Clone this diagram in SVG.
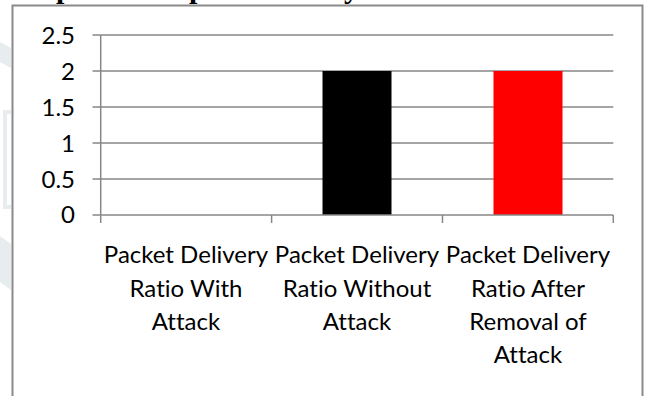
<svg xmlns="http://www.w3.org/2000/svg" width="648" height="396" viewBox="0 0 648 396">
  <style>
    .frame { fill: #ffffff; stroke: #8a8a8a; stroke-width: 2; }
    .grid { stroke: #878787; stroke-width: 1.5; fill: none; }
    .axis { stroke: #878787; stroke-width: 1.5; fill: none; }
    .lbl { font-family: Lato, "Liberation Sans", sans-serif; font-size: 24px; fill: #000000; font-variant-ligatures: none; }
    .ylbl { text-anchor: end; }
    .xlbl { text-anchor: middle; }
    .head { font-family: "Liberation Serif", serif; font-weight: bold; font-size: 30px; fill: #000000; }
    .wm { fill: #e7ecef; }
  </style>
  <rect x="0" y="0" width="648" height="396" fill="#ffffff"/>
  <g id="watermark">
    <path class="wm" d="M0 42 L11 48 L11 68 L0 62 Z"/>
    <path class="wm" d="M3 110 L11 110 L11 114 L7 114 L7 205 L11 205 L11 209 L3 209 Z"/>
    <path class="wm" d="M0 236 L11 244 L11 290 L0 282 Z"/>
  </g>
  <g id="heading-fragment">
    <text class="head" x="56" y="-1.8">p</text>
    <text class="head" x="189" y="-1.8">p</text>
    <text class="head" x="344" y="-1.8">y</text>
  </g>
  <g id="chart-frame">
    <rect class="frame" x="12.5" y="5.5" width="630" height="400"/>
  </g>
  <g id="gridlines">
    <line class="grid" x1="100.7" y1="35" x2="613.3" y2="35"/>
    <line class="grid" x1="100.7" y1="71" x2="613.3" y2="71"/>
    <line class="grid" x1="100.7" y1="107" x2="613.3" y2="107"/>
    <line class="grid" x1="100.7" y1="143" x2="613.3" y2="143"/>
    <line class="grid" x1="100.7" y1="179" x2="613.3" y2="179"/>
  </g>
  <g id="bars">
    <rect id="bar-without-attack" x="322.5" y="71" width="69" height="144" fill="#000000"/>
    <rect id="bar-after-removal" x="493.5" y="71" width="69" height="144" fill="#ff0000"/>
  </g>
  <g id="axes">
    <line class="axis" x1="100.7" y1="35" x2="100.7" y2="223"/>
    <line class="axis" x1="92.5" y1="215" x2="613.3" y2="215"/>
    <line class="axis" x1="92.5" y1="35" x2="100.7" y2="35"/>
    <line class="axis" x1="92.5" y1="71" x2="100.7" y2="71"/>
    <line class="axis" x1="92.5" y1="107" x2="100.7" y2="107"/>
    <line class="axis" x1="92.5" y1="143" x2="100.7" y2="143"/>
    <line class="axis" x1="92.5" y1="179" x2="100.7" y2="179"/>
    <line class="axis" x1="271.6" y1="215" x2="271.6" y2="223"/>
    <line class="axis" x1="442.5" y1="215" x2="442.5" y2="223"/>
    <line class="axis" x1="613.3" y1="215" x2="613.3" y2="223"/>
  </g>
  <g id="y-labels">
    <text class="lbl ylbl" x="75" y="43.5">2.5</text>
    <text class="lbl ylbl" x="75" y="79.5">2</text>
    <text class="lbl ylbl" x="75" y="115.5">1.5</text>
    <text class="lbl ylbl" x="75" y="151.5">1</text>
    <text class="lbl ylbl" x="75" y="187.5">0.5</text>
    <text class="lbl ylbl" x="75" y="223">0</text>
  </g>
  <g id="cat-with-attack">
    <text class="lbl xlbl" x="186" y="263.3">Packet Delivery</text>
    <text class="lbl xlbl" x="186" y="296.6">Ratio With</text>
    <text class="lbl xlbl" x="186" y="330">Attack</text>
  </g>
  <g id="cat-without-attack">
    <text class="lbl xlbl" x="357" y="263.3">Packet Delivery</text>
    <text class="lbl xlbl" x="357" y="296.6">Ratio Without</text>
    <text class="lbl xlbl" x="357" y="330">Attack</text>
  </g>
  <g id="cat-after-removal">
    <text class="lbl xlbl" x="528" y="263.3">Packet Delivery</text>
    <text class="lbl xlbl" x="528" y="296.6">Ratio After</text>
    <text class="lbl xlbl" x="528" y="330">Removal of</text>
    <text class="lbl xlbl" x="528" y="363.3">Attack</text>
  </g>
</svg>
